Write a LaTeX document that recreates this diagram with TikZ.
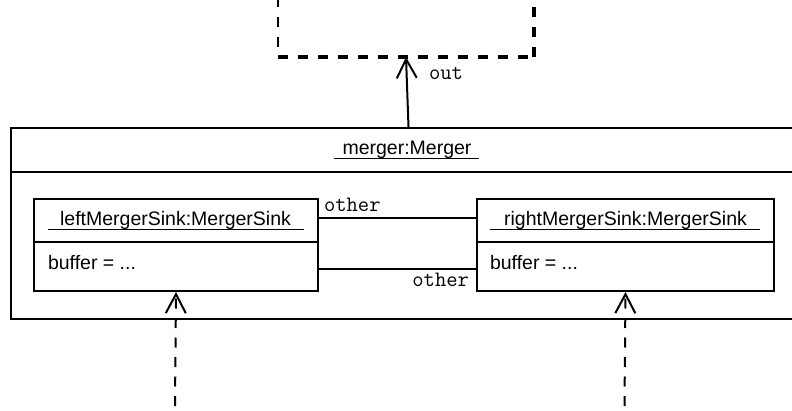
\documentclass[tikz,border=0pt]{standalone}
\usepackage{fontspec}
\setmainfont{Liberation Sans}
\usetikzlibrary{arrows.meta}
\begin{document}
\begin{tikzpicture}[x=1pt,y=-1pt, line width=2pt,
  box/.style={draw, line width=2pt, rectangle, inner sep=0pt, anchor=north west},
  lbl/.style={font=\fontsize{19.5}{22}\selectfont, inner sep=0pt},
  mono/.style={font=\ttfamily\fontsize{22}{24}\selectfont, inner sep=0pt},
  head/.style={-{Straight Barb[length=19pt,width=20pt,line width=2pt]}},
  uline/.style={line width=1.4pt},
  dsh/.style={dash pattern=on 10pt off 9.5pt},
  ]
\useasboundingbox (0,0) rectangle (792,411);

% environment (dashed, partly outside)
\coordinate (envb) at (406,57);
\draw[line width=2.5pt, dash pattern=on 10pt off 10pt] (278,-3) -- (278,57);
\draw[line width=4pt, dash pattern=on 10pt off 10pt] (278,57) -- (534,57);
\draw[line width=4pt, dash pattern=on 10pt off 10pt] (534,57) -- (534,-5);

% merger object
\node[box, minimum width=795pt, minimum height=191pt] (merger) at (10,127) {};
\draw (10,172) -- (805,172);
\node[lbl, anchor=base] (mt) at (407,155) {merger:Merger};
\draw[uline] ([xshift=-8pt,yshift=-3.5pt]mt.base west) -- ([xshift=7pt,yshift=-3.5pt]mt.base east);

% left sink
\node[box, minimum width=284pt, minimum height=92pt] (ls) at (33,198) {};
\draw (33,242) -- (317,242);
\node[lbl, anchor=base] (lt) at (175.5,226) {leftMergerSink:MergerSink};
\draw[uline] ([xshift=-11pt,yshift=-3.5pt]lt.base west) -- ([xshift=12pt,yshift=-3.5pt]lt.base east);
\node[lbl, anchor=base west] (lb) at (47,270) {buffer = ...};

% right sink
\node[box, minimum width=297pt, minimum height=92pt] (rs) at (476,198) {};
\draw (476,242) -- (773,242);
\node[lbl, anchor=base] (rt) at (625.5,226) {rightMergerSink:MergerSink};
\draw[uline] ([xshift=-13pt,yshift=-3.5pt]rt.base west) -- ([xshift=12pt,yshift=-3.5pt]rt.base east);
\node[lbl, anchor=base west] (rb) at (489,270) {buffer = ...};

% links
\draw ([yshift=-20pt]ls.north east) -- ([yshift=-20pt]rs.north west);
\draw ([yshift=-71pt]ls.north east) -- ([yshift=-71pt]rs.north west);
\node[mono, anchor=base west] (o1) at (323,212) {other};
\node[mono, anchor=base east] (o2) at (470,287) {other};

% out port
\draw[head] (merger.north) -- (envb);
\node[mono, anchor=base west] (out) at (428,80) {out};

% incoming dashed arrows
\coordinate (lin) at (175,406);
\coordinate (rin) at (624.5,406);
\draw[dsh, head] (lin) -- (ls.south);
\draw[dsh, head] (rin) -- (rs.south);
\end{tikzpicture}
\end{document}
